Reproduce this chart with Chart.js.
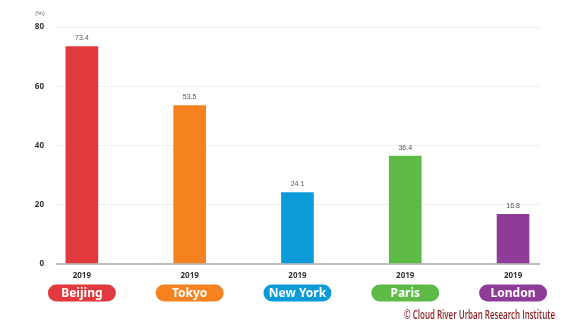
<!DOCTYPE html>
<html><head><meta charset="utf-8">
<script src="https://cdn.jsdelivr.net/npm/chart.js@4"></script>
<style>html,body{margin:0;padding:0;background:#fff;}#wrap{width:580px;height:326px;}</style>
</head><body><div id="wrap"><canvas id="c" width="580" height="326"></canvas></div>
<script>
const cities = ["Beijing", "Tokyo", "New York", "Paris", "London"];
const years = ["2019", "2019", "2019", "2019", "2019"];
const values = [73.4, 53.5, 24.1, 36.4, 16.8];
const colors = ["#e0393e", "#f5821f", "#0a9bd8", "#5dba47", "#8e3c97"];
const yTicks = [0, 20, 40, 60, 80];
const unitLabel = "(%)";
const credit = "© Cloud River Urban Research Institute";

const overlay = {
  id: 'overlay',
  afterDatasetsDraw(chart) {
    const ctx = chart.ctx, x = chart.scales.x, y = chart.scales.y;
    ctx.save();
    // value labels
    ctx.fillStyle = '#555';
    ctx.font = '7px "Liberation Sans", Arial, sans-serif';
    ctx.textAlign = 'center';
    ctx.textBaseline = 'bottom';
    values.forEach((v, i) => {
      ctx.fillText(v.toFixed(1), x.getPixelForValue(i), y.getPixelForValue(v) - 5);
    });
    // years
    ctx.fillStyle = '#333';
    ctx.font = 'bold 8px "Noto Sans", sans-serif';
    ctx.textBaseline = 'middle';
    years.forEach((t, i) => ctx.fillText(t, x.getPixelForValue(i), 276));
    // pills
    cities.forEach((c, i) => {
      const cx = x.getPixelForValue(i);
      const w = 68, h = 17, top = 284.5;
      ctx.fillStyle = colors[i];
      ctx.beginPath();
      ctx.roundRect(cx - w / 2, top, w, h, h / 2);
      ctx.fill();
      ctx.fillStyle = '#fff';
      ctx.font = 'bold 12px "Noto Sans", sans-serif';
      ctx.fillText(c, cx, top + h / 2 + 0.5);
    });
    // unit
    ctx.fillStyle = '#666';
    ctx.font = '6px "Liberation Sans", Arial, sans-serif';
    ctx.textAlign = 'center';
    ctx.fillText(unitLabel, 40, 13);
    // credit (condensed)
    ctx.fillStyle = '#8b1c1c';
    ctx.font = '600 12px "Open Sans", sans-serif';
    ctx.textAlign = 'left';
    const tw = ctx.measureText(credit).width;
    const targetW = 151;
    ctx.translate(404, 316);
    ctx.scale(targetW / tw, 1);
    ctx.fillText(credit, 0, 0);
    ctx.restore();
  }
};

new Chart(document.getElementById('c'), {
  type: 'bar',
  data: {
    datasets: [{
      data: values.map((v, i) => ({ x: i, y: v })),
      backgroundColor: colors,
      barThickness: 32,
      borderWidth: 0
    }]
  },
  options: {
    responsive: false,
    animation: false,
    layout: { padding: { top: 27, right: 40, bottom: 62, left: 0 } },
    plugins: { legend: { display: false }, tooltip: { enabled: false } },
    scales: {
      x: {
        type: 'linear', min: -0.24, max: 4.25, offset: false, display: false
      },
      y: {
        min: 0, max: 80,
        afterBuildTicks: s => { s.ticks = yTicks.map(v => ({ value: v })); },
        afterFit: s => { s.width = 56; },
        border: { display: false },
        grid: {
          drawTicks: false,
          color: c => c.tick.value === 0 ? '#bdbdbd' : '#efefef',
          lineWidth: c => c.tick.value === 0 ? 2 : 1
        },
        ticks: {
          padding: 12,
          color: '#333',
          font: { family: '"Noto Sans", sans-serif', size: 8, weight: 'bold' }
        }
      }
    }
  },
  plugins: [overlay]
});
</script>
</body></html>
